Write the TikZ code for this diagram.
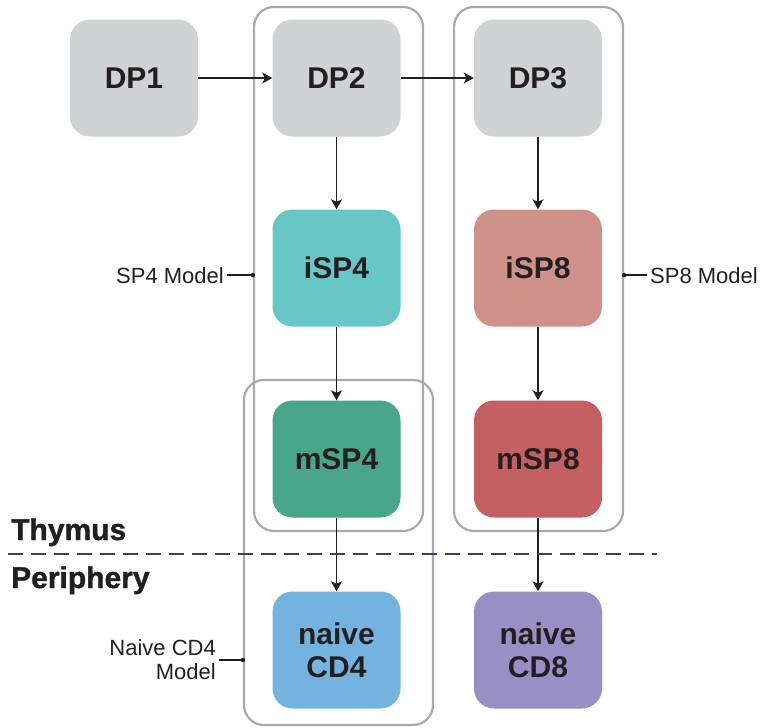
\documentclass[tikz,border=0pt]{standalone}
\usepackage{fontspec}
\setmainfont{Liberation Sans}
\newfontfamily\heavyfont[BoldFeatures={FakeBold=1.3}]{Liberation Sans}
\usetikzlibrary{arrows.meta}
\definecolor{dpgray}{HTML}{D1D2D4}
\definecolor{isfour}{HTML}{66C7C6}
\definecolor{msfour}{HTML}{4AA688}
\definecolor{nfour}{HTML}{74B3E0}
\definecolor{iseight}{HTML}{CE928B}
\definecolor{mseight}{HTML}{C56062}
\definecolor{neight}{HTML}{9890C4}
\definecolor{grpgray}{HTML}{A7A9AC}
\definecolor{txt}{HTML}{231F20}
\begin{document}
\begin{tikzpicture}[x=1pt,y=-1pt,
  cell/.style={rounded corners=20pt, minimum width=128pt, minimum height=117pt,
    inner sep=0pt, align=center, text=txt,
    font=\bfseries\fontsize{30}{33}\selectfont},
  grpbox/.style={draw=grpgray, line width=2.2pt, rounded corners=20pt, inner sep=0pt},
  lbl/.style={text=txt, font=\fontsize{22}{24}\selectfont, inner sep=3pt, align=right},
  region/.style={text=txt, font=\heavyfont\bfseries\fontsize{30}{30}\selectfont, inner sep=0pt},
  flow/.style={draw=txt, line width=1.3pt, -{Stealth[length=10pt,width=11pt,inset=2.5pt]}},
  tie/.style={draw=txt, line width=1.3pt},
  dotmark/.style={circle, fill=txt, inner sep=0pt, minimum size=4.5pt}
]
\useasboundingbox (0,0) rectangle (766,728);

% group boxes
\node[grpbox, minimum width=169pt, minimum height=524pt] (sp4) at (338.5,269) {};
\node[grpbox, minimum width=169pt, minimum height=524pt] (sp8) at (538.5,269) {};
\node[grpbox, minimum width=189pt, minimum height=345pt] (cd4g) at (338.5,552.5) {};

% cells
\node[cell, fill=dpgray] (dp1) at (134,78) {DP1};
\node[cell, fill=dpgray] (dp2) at (336.5,78) {DP2};
\node[cell, fill=dpgray] (dp3) at (538,78) {DP3};
\node[cell, fill=isfour] (isp4) at (336.5,268) {iSP4};
\node[cell, fill=iseight] (isp8) at (538,268) {iSP8};
\node[cell, fill=msfour] (msp4) at (336.5,459) {mSP4};
\node[cell, fill=mseight] (msp8) at (538,459) {mSP8};
\node[cell, fill=nfour] (ncd4) at (336.5,650) {naive\\CD4};
\node[cell, fill=neight] (ncd8) at (538,650) {naive\\CD8};

% flows
\draw[flow] (dp1) -- (dp2);
\draw[flow] (dp2) -- (dp3);
\draw[flow] (dp2) -- (isp4);
\draw[flow] (isp4) -- (msp4);
\draw[flow] (msp4) -- (ncd4);
\draw[flow] (dp3) -- (isp8);
\draw[flow] (isp8) -- (msp8);
\draw[flow] (msp8) -- (ncd8);

% region divider
\draw[draw=txt!85, line width=1.3pt, dash pattern=on 15pt off 8pt] (8,554) -- (657,554);
\node[region, anchor=base west] (thy) at (11,540) {Thymus};
\node[region, anchor=base west] (per) at (11,588) {Periphery};

% model labels
\node[lbl, anchor=base east] (sp4lbl) at (227,283) {SP4 Model};
\draw[tie] (sp4lbl.east) -- (sp4lbl.east -| sp4.west) node[dotmark] {};
\node[lbl, anchor=base west] (sp8lbl) at (647,283) {SP8 Model};
\draw[tie] (sp8lbl.west) -- (sp8lbl.west -| sp8.east) node[dotmark] {};
\node[lbl, anchor=east] (cd4lbl) at (219,660) {Naive CD4\\Model};
\draw[tie] (cd4lbl.east) -- (cd4lbl.east -| cd4g.west) node[dotmark] {};
\end{tikzpicture}
\end{document}
